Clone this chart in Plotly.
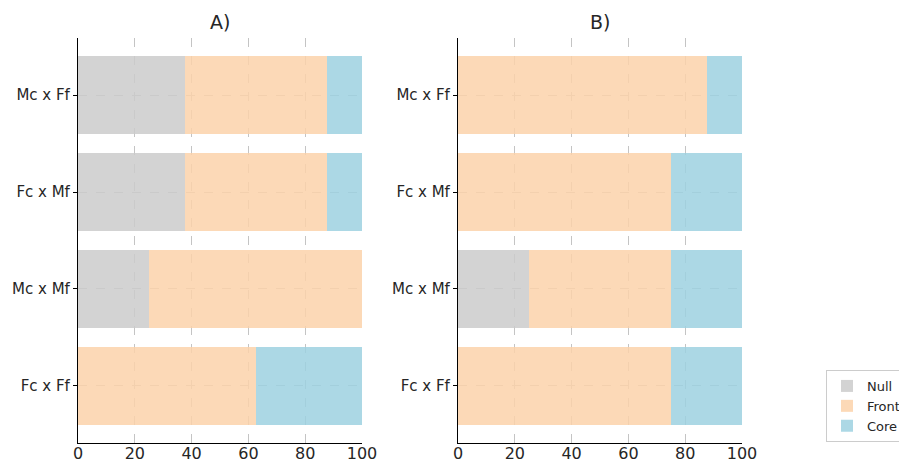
import plotly.graph_objects as go

W, H = 899, 461

categories = ["Fc x Ff", "Mc x Mf", "Fc x Mf", "Mc x Ff"]
series_names = ["Null", "Front", "Core"]

# Panel A
a_null = [0, 25, 37.5, 37.5]
a_front = [62.5, 75, 50, 50]
a_core = [37.5, 0, 12.5, 12.5]
# Panel B
b_null = [0, 25, 0, 0]
b_front = [75, 50, 75, 87.5]
b_core = [25, 25, 25, 12.5]

x_ticks = [0, 20, 40, 60, 80, 100]
titles = ["A)", "B)"]

colors = ["rgba(203,203,203,0.85)", "rgba(251,210,170,0.85)", "rgba(158,209,225,0.85)"]

fig = go.Figure()
panels = [(a_null, a_front, a_core), (b_null, b_front, b_core)]
for p, vals in enumerate(panels):
    xa = "x" if p == 0 else "x2"
    ya = "y" if p == 0 else "y2"
    for s, (name, v) in enumerate(zip(series_names, vals)):
        fig.add_trace(go.Bar(
            y=categories, x=v, orientation="h", name=name,
            marker=dict(color=colors[s], line=dict(width=0)),
            width=0.8, xaxis=xa, yaxis=ya, showlegend=(p == 0),
            legendgroup=name,
        ))

font = "DejaVu Sans, Verdana, sans-serif"
ydom = [1 - 443 / H, 1 - 38 / H]
axis_common = dict(
    showline=True, linecolor="black", linewidth=1.2, mirror=False,
    tickcolor="black", tickwidth=1,
    showgrid=True, gridcolor="#c4c4c4", griddash="dash", gridwidth=0.8,
    zeroline=False, tickfont=dict(size=15, color="#262626", family=font),
    automargin=False,
)
xaxis_common = dict(axis_common, ticks="", ticklabelstandoff=-4,
                    tickfont=dict(size=16, color="#262626", family=font))
yaxis_common = dict(axis_common, ticks="outside", ticklen=4)
fig.update_layout(
    barmode="stack",
    width=W, height=H,
    margin=dict(l=0, r=0, t=0, b=0, autoexpand=False),
    plot_bgcolor="white", paper_bgcolor="white",
    font=dict(family=font, color="#262626"),
    xaxis=dict(domain=[78 / W, 362 / W], range=[0, 100], tickvals=x_ticks, anchor="y", **xaxis_common),
    xaxis2=dict(domain=[458 / W, 742 / W], range=[0, 100], tickvals=x_ticks, anchor="y2", **xaxis_common),
    yaxis=dict(domain=ydom, range=[-0.59, 3.59], anchor="x", categoryorder="array", categoryarray=categories, **yaxis_common),
    yaxis2=dict(domain=ydom, range=[-0.59, 3.59], anchor="x2", categoryorder="array", categoryarray=categories, **yaxis_common),
    legend=dict(
        x=826 / W, y=1 - 370 / H, xanchor="left", yanchor="top",
        bordercolor="#cccccc", borderwidth=1, bgcolor="white",
        font=dict(size=13, family=font, color="#262626"),
        traceorder="normal", itemwidth=30, tracegroupgap=1,
    ),
    bargap=0.2,
)
for p, t in enumerate(titles):
    cx = (78 + 362) / 2 if p == 0 else (458 + 742) / 2
    fig.add_annotation(text=t, x=cx / W, y=1 - 22 / H, xref="paper", yref="paper",
                       showarrow=False, font=dict(size=19, family=font, color="#262626"),
                       xanchor="center", yanchor="middle")

fig.write_html("out.html", config={"displayModeBar": False},
               post_script="document.body.style.margin='0px';")
